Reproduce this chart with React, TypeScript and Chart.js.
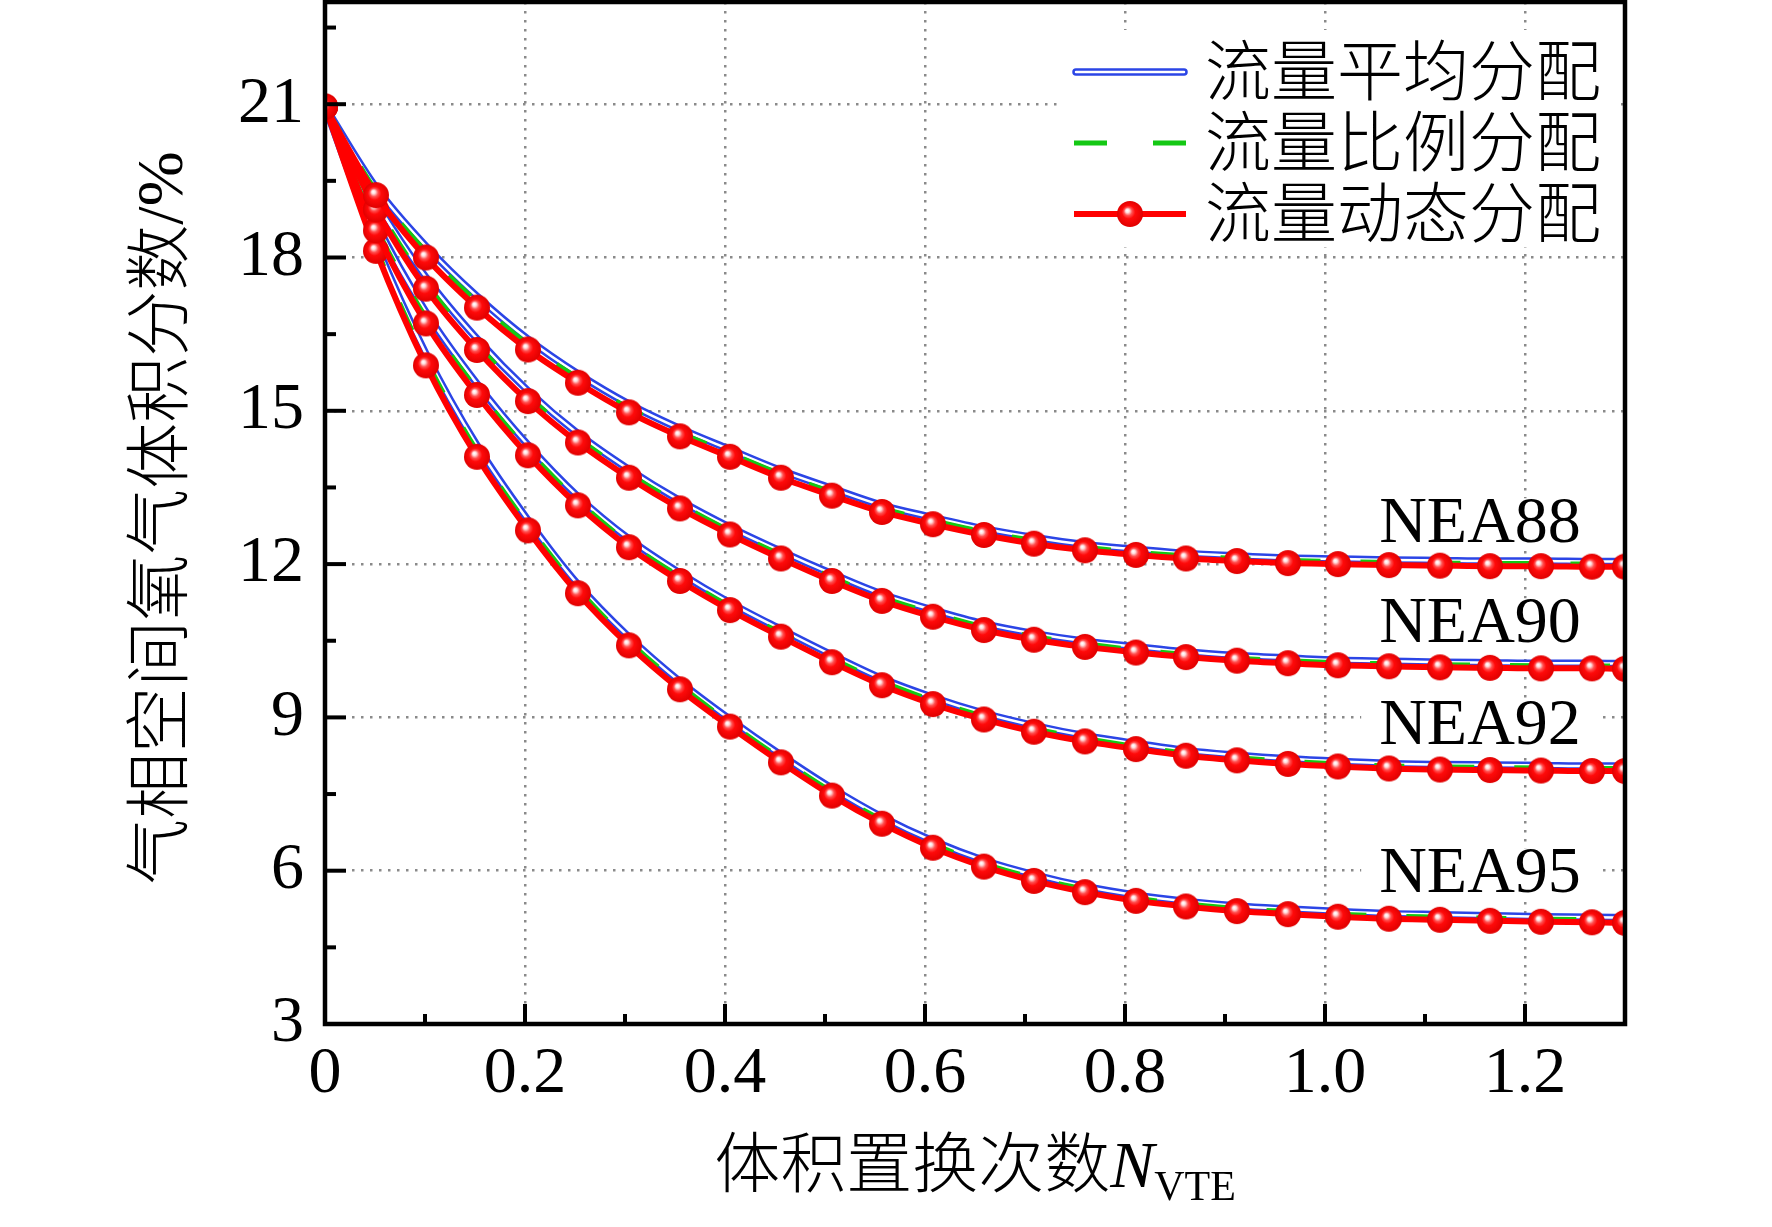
import { useEffect, useRef } from "react";
import { Chart, registerables } from "chart.js";

Chart.register(...registerables);

// N_VTE positions of the plotted points (marker positions of the dynamic series)
const nVte = [
  0, 0.051, 0.101, 0.152, 0.203, 0.253, 0.304, 0.355, 0.405, 0.456, 0.507, 0.557, 0.608, 0.659,
  0.709, 0.76, 0.811, 0.861, 0.912, 0.963, 1.013, 1.064, 1.115, 1.165, 1.216, 1.267, 1.3,
];

// 流量平均分配 (blue)
const avgNea88 = [20.95, 19.37, 18.22, 17.24, 16.4, 15.72, 15.13, 14.65, 14.24, 13.83, 13.48, 13.15, 12.91, 12.69, 12.52, 12.38, 12.29, 12.21, 12.16, 12.12, 12.1, 12.08, 12.07, 12.06, 12.06, 12.05, 12.05];
const avgNea90 = [20.95, 19.09, 17.61, 16.41, 15.39, 14.55, 13.85, 13.24, 12.72, 12.25, 11.81, 11.41, 11.1, 10.83, 10.64, 10.49, 10.38, 10.28, 10.21, 10.16, 10.12, 10.1, 10.08, 10.07, 10.06, 10.06, 10.05];
const avgNea92 = [20.95, 18.68, 16.93, 15.53, 14.33, 13.32, 12.49, 11.82, 11.24, 10.72, 10.22, 9.76, 9.39, 9.08, 8.84, 8.64, 8.49, 8.35, 8.26, 8.19, 8.14, 8.1, 8.08, 8.07, 8.06, 8.05, 8.05];
const avgNea95 = [20.95, 18.28, 16.11, 14.32, 12.86, 11.6, 10.57, 9.7, 8.96, 8.26, 7.61, 7.05, 6.58, 6.2, 5.92, 5.69, 5.52, 5.4, 5.31, 5.25, 5.2, 5.16, 5.14, 5.12, 5.1, 5.09, 5.08];

// 流量比例分配 (green dashed)
const propNea88 = [20.95, 19.3, 18.11, 17.13, 16.3, 15.64, 15.05, 14.57, 14.17, 13.76, 13.41, 13.09, 12.85, 12.63, 12.46, 12.33, 12.23, 12.16, 12.11, 12.07, 12.05, 12.03, 12.02, 12.01, 12.01, 12.0, 12.0];
const propNea90 = [20.95, 19.02, 17.5, 16.3, 15.29, 14.47, 13.77, 13.17, 12.65, 12.18, 11.74, 11.35, 11.04, 10.77, 10.58, 10.44, 10.32, 10.23, 10.16, 10.11, 10.07, 10.05, 10.03, 10.02, 10.01, 10.01, 10.0];
const propNea92 = [20.95, 18.6, 16.82, 15.42, 14.23, 13.24, 12.41, 11.75, 11.17, 10.65, 10.15, 9.7, 9.33, 9.02, 8.78, 8.59, 8.43, 8.3, 8.21, 8.14, 8.09, 8.05, 8.03, 8.02, 8.01, 8.0, 8.0];
const propNea95 = [20.95, 18.2, 16.0, 14.21, 12.76, 11.52, 10.49, 9.63, 8.89, 8.19, 7.54, 6.99, 6.52, 6.14, 5.86, 5.64, 5.46, 5.35, 5.26, 5.2, 5.15, 5.11, 5.09, 5.07, 5.05, 5.04, 5.03];

// 流量动态分配 (red with markers)
const dynNea88 = [20.95, 19.22, 18.0, 17.02, 16.2, 15.55, 14.97, 14.5, 14.1, 13.69, 13.34, 13.02, 12.78, 12.57, 12.4, 12.27, 12.18, 12.11, 12.06, 12.02, 12.0, 11.98, 11.97, 11.96, 11.96, 11.95, 11.95];
const dynNea90 = [20.95, 18.94, 17.39, 16.19, 15.19, 14.38, 13.69, 13.09, 12.58, 12.11, 11.67, 11.28, 10.97, 10.71, 10.52, 10.38, 10.27, 10.18, 10.11, 10.06, 10.02, 10.0, 9.98, 9.97, 9.96, 9.96, 9.95];
const dynNea92 = [20.95, 18.53, 16.71, 15.31, 14.13, 13.15, 12.33, 11.67, 11.1, 10.58, 10.08, 9.63, 9.26, 8.96, 8.72, 8.53, 8.38, 8.25, 8.16, 8.09, 8.04, 8.0, 7.98, 7.97, 7.96, 7.95, 7.95];
const dynNea95 = [20.95, 18.13, 15.89, 14.1, 12.66, 11.43, 10.41, 9.55, 8.82, 8.12, 7.47, 6.92, 6.45, 6.08, 5.8, 5.58, 5.41, 5.3, 5.21, 5.15, 5.1, 5.06, 5.04, 5.02, 5.0, 4.99, 4.98];

const groupNames = ["NEA88", "NEA90", "NEA92", "NEA95"];
const groupLabelX = [1.155, 1.155, 1.155, 1.155];
const groupLabelY = [12.78, 10.82, 8.81, 5.93];
const seriesNames = ["流量平均分配", "流量比例分配", "流量动态分配"];

const xTicks = [0, 0.2, 0.4, 0.6, 0.8, 1.0, 1.2];
const xTickLabels = ["0", "0.2", "0.4", "0.6", "0.8", "1.0", "1.2"];
const xMinorTicks = [0.1, 0.3, 0.5, 0.7, 0.9, 1.1];
const yTicks = [3, 6, 9, 12, 15, 18, 21];
const yMinorTicks = [4.5, 7.5, 10.5, 13.5, 16.5, 19.5, 22.5];

const xTitle = "体积置换次数";
const yTitle = "气相空间氧气体积分数/%";

const BLUE = "#2b45e6";
const GREEN = "#14c814";
const RED = "#ff0000";
const SERIF = "'Liberation Serif', 'Times New Roman', serif";
const CJK = "'Noto Sans CJK SC', sans-serif";
const MIXED = "'Liberation Serif', 'Noto Sans CJK SC', serif";

const W = 1772;
const H = 1227;

function makeSphere(r: number) {
  const c = document.createElement("canvas");
  const s = Math.ceil(r * 2 + 2);
  c.width = s;
  c.height = s;
  const ctx = c.getContext("2d")!;
  const cx = s / 2;
  const g = ctx.createRadialGradient(cx - r * 0.22, cx - r * 0.28, 0.3, cx, cx, r);
  g.addColorStop(0, "#ffffff");
  g.addColorStop(0.12, "#ffe0e0");
  g.addColorStop(0.3, "#ff5050");
  g.addColorStop(0.5, "#ff0a0a");
  g.addColorStop(1, "#e00000");
  ctx.fillStyle = g;
  ctx.beginPath();
  ctx.arc(cx, cx, r, 0, Math.PI * 2);
  ctx.fill();
  return c;
}

const pts = (ys: number[]) => nVte.map((x, i) => ({ x, y: ys[i] }));

export default function App() {
  const canvasRef = useRef<HTMLCanvasElement | null>(null);
  const chartRef = useRef<Chart | null>(null);

  useEffect(() => {
    if (!canvasRef.current) return;
    chartRef.current?.destroy();

    const sphere = makeSphere(13);
    const avg = [avgNea88, avgNea90, avgNea92, avgNea95];
    const prop = [propNea88, propNea90, propNea92, propNea95];
    const dyn = [dynNea88, dynNea90, dynNea92, dynNea95];

    const common = { cubicInterpolationMode: "monotone", pointRadius: 0, pointHoverRadius: 0, fill: false };
    const datasets: any[] = [];
    groupNames.forEach((g, i) => {
      datasets.push({ ...common, label: `${g} ${seriesNames[2]}`, data: pts(dyn[i]), borderColor: RED, borderWidth: 6, pointStyle: sphere, pointRadius: 13, order: 0 });
      datasets.push({ ...common, label: `${g} ${seriesNames[1]}`, data: pts(prop[i]), borderColor: GREEN, borderWidth: 5, borderDash: [30, 40], order: 1 });
      datasets.push({ ...common, label: `${g} core`, data: pts(avg[i]), borderColor: "#ffffff", borderWidth: 2.5, order: 2 });
      datasets.push({ ...common, label: `${g} ${seriesNames[0]}`, data: pts(avg[i]), borderColor: BLUE, borderWidth: 7.5, order: 3 });
    });

    const decor = {
      id: "decor",
      beforeDatasetsDraw(chart: any) {
        const { ctx, scales } = chart;
        ctx.save();
        ctx.font = `66px ${SERIF}`;
        ctx.textAlign = "center";
        ctx.textBaseline = "middle";
        groupNames.forEach((name, i) => {
          const px = scales.x.getPixelForValue(groupLabelX[i]);
          const py = scales.y.getPixelForValue(groupLabelY[i]);
          const w = ctx.measureText(name).width;
          ctx.fillStyle = "#fff";
          ctx.fillRect(px - w / 2 - 18, py - 26, w + 36, 52);
          ctx.fillStyle = "#000";
          ctx.fillText(name, px, py);
        });
        ctx.restore();
      },
      afterDatasetsDraw(chart: any) {
        const { ctx, chartArea: a, scales } = chart;
        ctx.save();

        // legend
        const lx = a.right - 563;
        ctx.fillStyle = "#fff";
        ctx.fillRect(lx, 30, 553, 217);
        const rows = [72, 143, 214];
        const s0 = lx + 12;
        const s1 = lx + 124;
        ctx.lineCap = "round";
        ctx.strokeStyle = BLUE;
        ctx.lineWidth = 7.5;
        ctx.beginPath();
        ctx.moveTo(s0 + 2, rows[0]);
        ctx.lineTo(s1 - 2, rows[0]);
        ctx.stroke();
        ctx.strokeStyle = "#fff";
        ctx.lineWidth = 2.5;
        ctx.beginPath();
        ctx.moveTo(s0 + 2, rows[0]);
        ctx.lineTo(s1 - 2, rows[0]);
        ctx.stroke();
        ctx.lineCap = "butt";
        ctx.strokeStyle = GREEN;
        ctx.lineWidth = 5;
        ctx.setLineDash([33, 46]);
        ctx.beginPath();
        ctx.moveTo(s0, rows[1]);
        ctx.lineTo(s1 + 1, rows[1]);
        ctx.stroke();
        ctx.setLineDash([]);
        ctx.strokeStyle = RED;
        ctx.lineWidth = 6;
        ctx.beginPath();
        ctx.moveTo(s0, rows[2]);
        ctx.lineTo(s1, rows[2]);
        ctx.stroke();
        ctx.drawImage(sphere, (s0 + s1) / 2 - sphere.width / 2, rows[2] - sphere.height / 2);
        ctx.fillStyle = "#000";
        ctx.font = `300 66px ${CJK}`;
        ctx.textAlign = "left";
        ctx.textBaseline = "middle";
        seriesNames.forEach((t, i) => ctx.fillText(t, lx + 143, rows[i] - 2));

        // frame
        ctx.strokeStyle = "#000";
        ctx.lineWidth = 4.5;
        ctx.strokeRect(a.left, a.top, a.right - a.left, a.bottom - a.top);

        // inward ticks
        ctx.lineWidth = 4;
        const tick = (x1: number, y1: number, x2: number, y2: number) => {
          ctx.beginPath();
          ctx.moveTo(x1, y1);
          ctx.lineTo(x2, y2);
          ctx.stroke();
        };
        xTicks.forEach((v) => {
          const p = scales.x.getPixelForValue(v);
          tick(p, a.bottom, p, a.bottom - 20);
        });
        xMinorTicks.forEach((v) => {
          const p = scales.x.getPixelForValue(v);
          tick(p, a.bottom, p, a.bottom - 10);
        });
        yTicks.forEach((v) => {
          const p = scales.y.getPixelForValue(v);
          tick(a.left, p, a.left + 21, p);
        });
        yMinorTicks.forEach((v) => {
          const p = scales.y.getPixelForValue(v);
          tick(a.left, p, a.left + 11, p);
        });
        ctx.restore();
      },
      afterDraw(chart: any) {
        const { ctx, chartArea: a } = chart;
        ctx.save();
        ctx.fillStyle = "#000";
        // x title: CJK + italic N + subscript VTE
        ctx.textBaseline = "alphabetic";
        ctx.textAlign = "left";
        ctx.font = `300 66px ${CJK}`;
        const w1 = ctx.measureText(xTitle).width;
        ctx.font = `italic 66px ${SERIF}`;
        const w2 = ctx.measureText("N").width;
        ctx.font = `42px ${SERIF}`;
        const w3 = ctx.measureText("VTE").width;
        let x0 = (a.left + a.right) / 2 - (w1 + w2 + w3) / 2;
        ctx.font = `300 66px ${CJK}`;
        ctx.fillText(xTitle, x0, 1187);
        x0 += w1;
        ctx.font = `italic 66px ${SERIF}`;
        ctx.fillText("N", x0, 1187);
        x0 += w2;
        ctx.font = `42px ${SERIF}`;
        ctx.fillText("VTE", x0, 1200);

        // y title
        ctx.translate(165, 518);
        ctx.rotate(-Math.PI / 2);
        ctx.font = `300 66px ${MIXED}`;
        ctx.textAlign = "center";
        ctx.textBaseline = "middle";
        ctx.fillText(yTitle, 0, 0);
        ctx.restore();
      },
    };

    chartRef.current = new Chart(canvasRef.current, {
      type: "line",
      data: { datasets },
      options: {
        animation: false,
        responsive: false,
        devicePixelRatio: 1,
        events: [],
        layout: { autoPadding: false, padding: { top: 2, right: W - 1625, left: 0, bottom: 0 } },
        plugins: { legend: { display: false }, tooltip: { enabled: false } },
        scales: {
          x: {
            type: "linear",
            min: 0,
            max: 1.3,
            afterBuildTicks: (s: any) => {
              s.ticks = xTicks.map((v) => ({ value: v }));
            },
            afterFit: (s: any) => {
              s.height = H - 1024;
              s.paddingLeft = 0;
              s.paddingRight = 0;
            },
            ticks: {
              autoSkip: false,
              maxRotation: 0,
              minRotation: 0,
              padding: 11,
              color: "#000",
              font: { family: SERIF, size: 66 },
              callback: (v: any) => xTickLabels[xTicks.indexOf(v)] ?? "",
            },
            grid: { color: "#8a8a8a", lineWidth: 2.5, drawTicks: false },
            border: { display: false, dash: [2.5, 6.5] },
          },
          y: {
            type: "linear",
            min: 3,
            max: 23,
            afterBuildTicks: (s: any) => {
              s.ticks = yTicks.map((v) => ({ value: v }));
            },
            afterFit: (s: any) => {
              s.width = 325;
              s.paddingTop = 0;
              s.paddingBottom = 0;
            },
            ticks: {
              padding: 21,
              color: "#000",
              font: { family: SERIF, size: 66 },
              callback: (v: any) => String(v),
            },
            grid: { color: "#8a8a8a", lineWidth: 2.5, drawTicks: false },
            border: { display: false, dash: [2.5, 6.5] },
          },
        },
      } as any,
      plugins: [decor],
    });

    return () => {
      chartRef.current?.destroy();
      chartRef.current = null;
    };
  }, []);

  return (
    <div style={{ position: "absolute", left: 0, top: 0, width: W, height: H, background: "#fff" }}>
      <canvas ref={canvasRef} width={W} height={H} style={{ display: "block", width: W, height: H }} />
    </div>
  );
}
